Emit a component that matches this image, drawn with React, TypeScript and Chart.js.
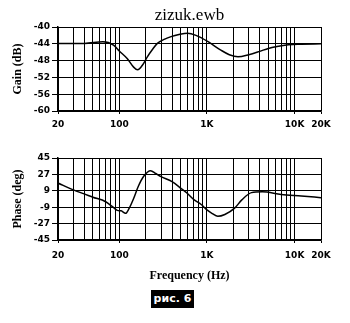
import React, { useEffect, useRef } from 'react';
import { Chart, registerables } from 'chart.js';

Chart.register(...registerables);

// ---- Data ----
const gainFreq = [20, 40, 65, 86, 100, 123, 145, 162, 185, 209, 240, 272, 330, 390, 480, 600, 750, 1030, 1440, 1800, 2260, 3000, 4000, 5020, 6500, 8500, 12000, 20000];
const gainDb = [-43.9, -43.9, -43.5, -44.3, -45.7, -47.5, -49.5, -50.2, -49.0, -47.1, -45.3, -43.9, -42.9, -42.3, -41.8, -41.5, -42.0, -43.5, -45.5, -46.6, -47.1, -46.6, -45.8, -45.1, -44.6, -44.2, -44.1, -44.0];

const phaseFreq = [20, 30, 50, 70, 85, 95, 105, 118, 130, 145, 165, 190, 228, 260, 300, 400, 505, 600, 716, 860, 1000, 1150, 1330, 1600, 2070, 2500, 3220, 4270, 7030, 11900, 20000];
const phaseDeg = [17.5, 10, 2, -3, -9, -12.5, -13, -15.7, -10, 0, 14, 25, 31, 28, 24.5, 19, 11.7, 6, -1, -6, -12, -16, -19, -17, -10, -1, 7, 8, 5, 3.3, 1.5];

const gridFreqs = [20, 30, 40, 50, 60, 70, 80, 90, 100, 200, 300, 400, 500, 600, 700, 800, 900, 1000, 2000, 3000, 4000, 5000, 6000, 7000, 8000, 9000, 10000, 20000];
const xTickValues = [20, 100, 1000, 10000, 20000];
const xTickLabels = ['20', '100', '1K', '10K', '20K'];

const gainTicks = [-60, -56, -52, -48, -44, -40];
const phaseTicks = [-45, -27, -9, 9, 27, 45];

const SANS = "'DejaVu Sans', sans-serif";
const SERIF = "'Liberation Serif', 'Times New Roman', serif";

function xScale(axisHeight: number, pad: number, title?: any) {
  return {
    type: 'logarithmic',
    min: 20,
    max: 20000,
    afterBuildTicks: (s: any) => {
      s.ticks = gridFreqs.map((v) => ({ value: v }));
    },
    afterFit: (s: any) => {
      s.height = axisHeight;
    },
    ticks: {
      autoSkip: false,
      maxRotation: 0,
      minRotation: 0,
      padding: pad,
      color: '#000',
      font: { family: SANS, size: 9, weight: 'bold' },
      callback: (v: any) => {
        const i = xTickValues.indexOf(Number(v));
        return i >= 0 ? xTickLabels[i] : '';
      },
    },
    grid: {
      color: '#000',
      lineWidth: 1,
      drawTicks: true,
      tickLength: 3,
      tickColor: (ctx: any) =>
        ctx.tick && xTickValues.includes(ctx.tick.value) ? '#000' : 'rgba(0,0,0,0)',
    },
    border: { color: '#000', width: 1.5 },
    title: title || { display: false },
  };
}

function yScale(min: number, max: number, ticks: number[], label: string) {
  return {
    type: 'linear',
    min,
    max,
    afterBuildTicks: (s: any) => {
      s.ticks = ticks.map((v) => ({ value: v }));
    },
    afterFit: (s: any) => {
      s.width = 58;
    },
    ticks: {
      padding: 2,
      color: '#000',
      font: { family: SANS, size: 9, weight: 'bold' },
    },
    grid: { color: '#000', lineWidth: 1, drawTicks: true, tickLength: 6, tickColor: '#000' },
    border: { color: '#000', width: 1.5 },
    title: {
      display: true,
      text: label,
      color: '#000',
      font: { family: SERIF, size: 12, weight: 'bold' },
      padding: { top: 11, bottom: 0 },
    },
  };
}

function lineDataset(xs: number[], ys: number[]) {
  return {
    data: xs.map((x, i) => ({ x, y: ys[i] })),
    borderColor: '#000',
    borderWidth: 1.5,
    pointRadius: 0,
    fill: false,
    cubicInterpolationMode: 'monotone',
  };
}

function gainConfig(): any {
  return {
    type: 'line',
    data: { datasets: [lineDataset(gainFreq, gainDb)] },
    options: {
      responsive: false,
      animation: false,
      devicePixelRatio: 1,
      layout: { padding: { left: 0, right: 29, top: 0, bottom: 0 }, autoPadding: false },
      plugins: {
        legend: { display: false },
        tooltip: { enabled: false },
        title: {
          display: true,
          text: 'zizuk.ewb',
          fullSize: false,
          color: '#000',
          font: { family: SERIF, size: 17, weight: 'normal', lineHeight: 1.2 },
          padding: { top: 5, bottom: 1.6 },
        },
      },
      scales: {
        x: xScale(29, 5, undefined),
        y: yScale(-60, -40, gainTicks, 'Gain (dB)'),
      },
    },
  };
}

function phaseConfig(): any {
  return {
    type: 'line',
    data: { datasets: [lineDataset(phaseFreq, phaseDeg)] },
    options: {
      responsive: false,
      animation: false,
      devicePixelRatio: 1,
      layout: { padding: { left: 0, right: 29, top: 18, bottom: 0 }, autoPadding: false },
      plugins: {
        legend: { display: false },
        tooltip: { enabled: false },
        title: { display: false },
      },
      scales: {
        x: xScale(50, 7.5, {
          display: true,
          text: 'Frequency (Hz)',
          color: '#000',
          font: { family: SERIF, size: 12, weight: 'bold', lineHeight: 1.2 },
          padding: { top: 0, bottom: 7 },
        }),
        y: yScale(-45, 45, phaseTicks, 'Phase (deg)'),
      },
    },
  };
}

function ChartCanvas({ width, height, top, makeConfig }: { width: number; height: number; top: number; makeConfig: () => any }) {
  const ref = useRef<HTMLCanvasElement>(null);
  useEffect(() => {
    const chart = new Chart(ref.current as HTMLCanvasElement, makeConfig());
    return () => chart.destroy();
  }, []);
  return (
    <canvas
      ref={ref}
      width={width}
      height={height}
      style={{ position: 'absolute', left: 0, top, width, height, display: 'block' }}
    />
  );
}

export default function App() {
  return (
    <div style={{ position: 'absolute', left: 0, top: 0, width: 350, height: 323, background: '#fff', overflow: 'hidden' }}>
      <ChartCanvas width={350} height={140} top={0} makeConfig={gainConfig} />
      <ChartCanvas width={350} height={150} top={140} makeConfig={phaseConfig} />
      <div
        style={{
          position: 'absolute',
          left: 151,
          top: 290,
          width: 43,
          height: 18,
          background: '#000',
          color: '#fff',
          fontFamily: SANS,
          fontWeight: 'bold',
          fontSize: 11,
          lineHeight: '18px',
          textAlign: 'center',
        }}
      >
        рис. 6
      </div>
    </div>
  );
}
